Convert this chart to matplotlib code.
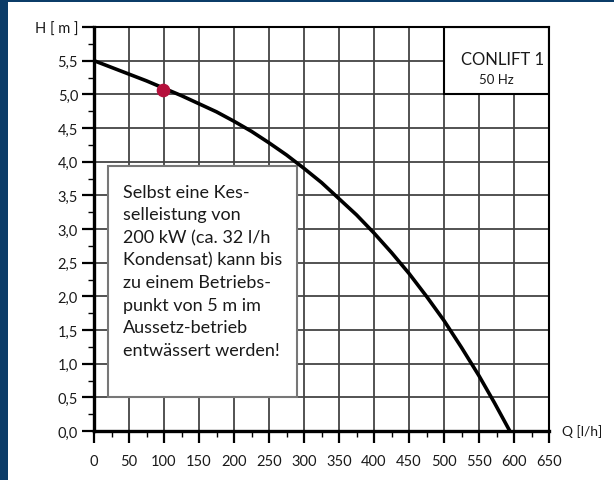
from matplotlib import pyplot as plt
from matplotlib.patches import Rectangle
from matplotlib.ticker import MultipleLocator

# pump curve
flow = [0, 25, 50, 75, 100, 125, 150, 175, 200, 225, 250, 275, 300, 325, 350,
        375, 400, 425, 450, 475, 500, 525, 550, 572, 594]
head = [5.5, 5.40, 5.30, 5.20, 5.09, 4.98, 4.86, 4.74, 4.60, 4.45, 4.28, 4.10, 3.90, 3.69,
        3.45, 3.21, 2.94, 2.65, 2.34, 2.00, 1.64, 1.24, 0.82, 0.42, 0.0]

point_q = [98]
point_h = [5.07]

x_ticks = list(range(0, 651, 50))
y_ticks = [0.0, 0.5, 1.0, 1.5, 2.0, 2.5, 3.0, 3.5, 4.0, 4.5, 5.0, 5.5, 6.0]
y_labels = ['0,0', '0,5', '1,0', '1,5', '2,0', '2,5', '3,0', '3,5', '4,0', '4,5',
            '5,0', '5,5', 'H [ m ]']

note = ('Selbst eine Kes-\nselleistung von\n200 kW (ca. 32 l/h\nKondensat) kann bis\n'
        'zu einem Betriebs-\npunkt von 5 m im\nAussetz-betrieb\nentwässert werden!')

plt.rcParams['font.family'] = ['Lato', 'DejaVu Sans']
txt = '#1a1a1a'
blue = '#0b3c68'

fig = plt.figure(figsize=(6.14, 4.81), dpi=100, facecolor=blue)
# white page inside the blue frame
fig.patches.append(Rectangle((8 / 614, 0), 1, 1 - 3 / 481, transform=fig.transFigure,
                             facecolor='white', edgecolor='none', zorder=-1))

ax = fig.add_axes([94 / 614, 1 - 432 / 481, 455 / 614, 404 / 481])
ax.set_zorder(1)
ax.set_xlim(0, 650)
ax.set_ylim(0, 6)

ax.set_xticks(x_ticks)
ax.set_xticklabels([str(v) for v in x_ticks])
ax.set_yticks(y_ticks)
ax.set_yticklabels(y_labels)
ax.xaxis.set_minor_locator(MultipleLocator(25))
ax.yaxis.set_minor_locator(MultipleLocator(0.25))
ax.tick_params(which='major', direction='out', length=8.5, width=1.6, color='black',
               labelsize=10.5, labelcolor=txt)
ax.tick_params(which='minor', direction='out', length=4.3, width=1.0, color='black')
ax.tick_params(axis='x', which='major', pad=8)
ax.tick_params(axis='y', which='major', pad=3)

ax.grid(True, which='major', color='#444444', linewidth=1.3)
ax.set_axisbelow(True)

for side in ['left', 'bottom']:
    ax.spines[side].set_linewidth(2.4)
for side in ['top', 'right']:
    ax.spines[side].set_linewidth(1.5)

# text box
ax.add_patch(Rectangle((20, 0.5), 270, 3.44, facecolor='white', edgecolor='#777777',
                       linewidth=1.5, zorder=2))
ax.text(42, 3.67, note, fontsize=13, color=txt, va='top', ha='left',
        linespacing=1.5, zorder=4)

# model box
ax.add_patch(Rectangle((500, 5.0), 150, 1.0, facecolor='white', edgecolor='black',
                       linewidth=1.5, zorder=2))
ax.text(584, 5.53, 'CONLIFT 1', fontsize=12, color=txt, ha='center', va='center', zorder=4)
ax.text(575, 5.23, '50 Hz', fontsize=9.5, color=txt, ha='center', va='center', zorder=4)

ax.plot(flow, head, color='black', linewidth=2.6, solid_capstyle='butt', zorder=3)
ax.plot(point_q, point_h, 'o', color='#b5103c', markersize=8.8, zorder=5)

ax.text(668, 0, 'Q [l/h]', fontsize=10, color=txt, ha='left', va='center', clip_on=False)

plt.savefig('out.png', dpi=100, facecolor=fig.get_facecolor())
